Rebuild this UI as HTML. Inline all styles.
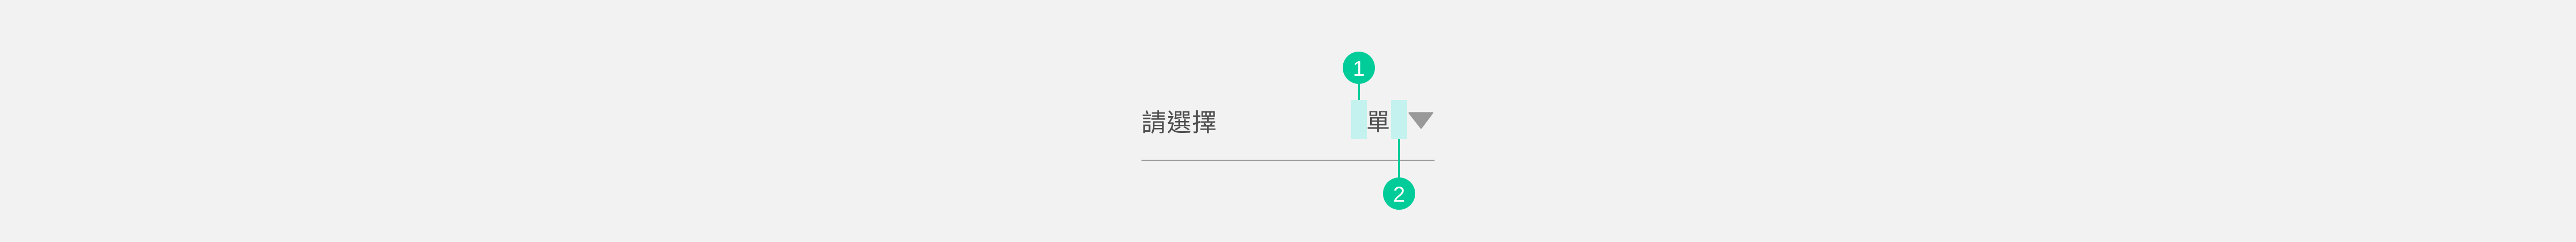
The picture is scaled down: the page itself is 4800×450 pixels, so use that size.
<!DOCTYPE html>
<html><head><meta charset="utf-8"><style>
html,body{margin:0;padding:0;background:#f2f2f2;}
body{width:4800px;height:450px;position:relative;overflow:hidden;font-family:"Liberation Sans","Noto Sans CJK TC",sans-serif;}
.a{position:absolute;}
</style></head><body>
<div class="a" style="left:2517px;top:186px;width:30px;height:72px;background:#c4f2ee"></div>
<div class="a" style="left:2592px;top:186px;width:30px;height:72px;background:#c4f2ee"></div>
<div class="a" style="left:2127px;top:200px;font-size:46px;line-height:56px;color:#4d4d4d;letter-spacing:1px">請選擇</div>
<div class="a" style="left:2546px;top:200px;font-size:44px;line-height:56px;color:#4d4d4d">單</div>
<svg class="a" style="left:0;top:0" width="4800" height="450">
<polygon points="2626,210 2669,210 2648,238" fill="#999" stroke="#999" stroke-width="3" stroke-linejoin="round"/>
<rect x="2127" y="297" width="546" height="2" fill="#999"/>
<line x1="2532" y1="150" x2="2532" y2="186" stroke="#00cc99" stroke-width="4"/>
<line x1="2607" y1="258" x2="2607" y2="335" stroke="#00cc99" stroke-width="4"/>
<circle cx="2532" cy="126" r="30" fill="#00cc99"/>
<circle cx="2607" cy="360" r="30" fill="#00cc99"/>
<text x="2532" y="141" font-size="40" fill="#fff" text-anchor="middle" font-family="Liberation Sans,sans-serif">1</text>
<text x="2607" y="375" font-size="40" fill="#fff" text-anchor="middle" font-family="Liberation Sans,sans-serif">2</text>
</svg>
</body></html>
